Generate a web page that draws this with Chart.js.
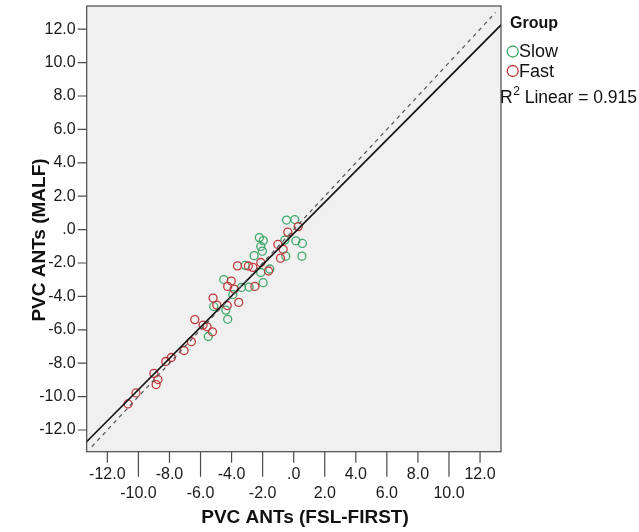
<!DOCTYPE html>
<html><head><meta charset="utf-8">
<script src="https://cdn.jsdelivr.net/npm/chart.js@4/dist/chart.umd.min.js"></script>
<style>html,body{margin:0;padding:0;background:#fff;}#wrap{width:639px;height:532px;position:relative;}</style>
</head><body><div id="wrap"><canvas id="c" width="639" height="532"></canvas></div>
<script>
// ---- data ----
const slowX = [-0.46, 0.07, -2.21, -1.96, -2.12, -2.02, -2.55, 0.14, 0.56, 0.53, -0.51, -3.12, -2.12, -1.54, -4.50, -1.97, -2.87, -3.36, -3.92, -5.15, -4.37, -4.25, -5.50, -0.57];
const slowY = [0.57, 0.60, -0.48, -0.66, -1.01, -1.29, -1.56, -0.67, -0.83, -1.59, -1.59, -2.14, -2.57, -2.36, -2.99, -3.18, -3.44, -3.46, -3.89, -4.60, -4.82, -5.37, -6.40, -0.63];
const fastX = [0.29, -0.38, -1.02, -0.68, -0.85, -3.62, -2.92, -2.63, -2.12, -1.62, -4.02, -4.25, -3.84, -2.50, -5.19, -3.54, -4.28, -4.95, -6.37, -5.84, -5.58, -5.23, -6.59, -7.06, -7.88, -8.24, -9.00, -8.74, -8.86, -10.16, -10.67];
const fastY = [0.18, -0.15, -0.89, -1.18, -1.71, -2.17, -2.18, -2.26, -1.97, -2.48, -3.08, -3.40, -3.56, -3.40, -4.10, -4.36, -4.55, -4.52, -5.39, -5.72, -5.82, -6.12, -6.71, -7.24, -7.66, -7.90, -8.61, -8.98, -9.28, -9.78, -10.44];
const fitSlope = 0.935;
const fitIntercept = -0.23;
const refLineX = [-13.0, 13.0];          // y = x reference line range
const fitLineX = [-13.4, 13.4];
const xTickValues = [-12, -10, -8, -6, -4, -2, 0, 2, 4, 6, 8, 10, 12];
const yTickValues = [-12, -10, -8, -6, -4, -2, 0, 2, 4, 6, 8, 10, 12];
const groupNames = ['Slow', 'Fast'];
const rSquared = 0.915;

const GREEN = '#3DA86A', RED = '#C0393C', AXIS = '#4a4a4a', FONT = "'Liberation Sans', Arial, sans-serif";
const fmt = v => (Math.abs(v) < 1e-9 ? '.0' : v.toFixed(1));

const decor = {
  id: 'decor',
  beforeDatasetsDraw(chart) {
    const {ctx, chartArea: a} = chart;
    ctx.save();
    ctx.fillStyle = '#F0F0F0';
    ctx.fillRect(a.left, a.top, a.right - a.left, a.bottom - a.top);
    ctx.restore();
  },
  afterDraw(chart) {
    const {ctx, chartArea: a, scales} = chart;
    ctx.save();
    ctx.strokeStyle = AXIS; ctx.lineWidth = 1.2;
    ctx.strokeRect(a.left, a.top, a.right - a.left, a.bottom - a.top);
    // ticks
    ctx.beginPath();
    xTickValues.forEach(v => {
      const px = scales.x.getPixelForValue(v);
      const len = (Math.round(v) % 4 === 0) ? 11 : 25;
      ctx.moveTo(px, a.bottom); ctx.lineTo(px, a.bottom + len);
    });
    yTickValues.forEach(v => {
      const py = scales.y.getPixelForValue(v);
      ctx.moveTo(a.left - 9, py); ctx.lineTo(a.left, py);
    });
    ctx.stroke();
    // axis titles
    ctx.fillStyle = '#111';
    ctx.font = 'bold 19px ' + FONT;
    ctx.textAlign = 'center'; ctx.textBaseline = 'middle';
    ctx.fillText('PVC ANTs (FSL-FIRST)', 305, 518);
    ctx.save();
    ctx.translate(40, 240); ctx.rotate(-Math.PI / 2);
    ctx.fillText('PVC ANTs (MALF)', 0, 0);
    ctx.restore();
    // legend
    ctx.textAlign = 'left';
    ctx.font = 'bold 16px ' + FONT;
    ctx.fillText('Group', 510, 24);
    ctx.font = '18px ' + FONT;
    [[GREEN, groupNames[0], 51.5], [RED, groupNames[1], 71]].forEach(([col, txt, y]) => {
      ctx.beginPath(); ctx.strokeStyle = col; ctx.lineWidth = 1.3;
      ctx.arc(512.7, y, 5.5, 0, Math.PI * 2); ctx.stroke();
      ctx.fillStyle = '#111';
      ctx.fillText(txt, 519, y + 1);
    });
    ctx.font = '17.5px ' + FONT;
    ctx.fillText('R', 500, 98);
    let w = ctx.measureText('R').width;
    ctx.font = '12px ' + FONT;
    ctx.fillText('2', 500 + w + 0.5, 92);
    w += ctx.measureText('2').width + 0.5;
    ctx.font = '17.5px ' + FONT;
    ctx.fillText(' Linear = ' + rSquared.toFixed(3), 500 + w, 98);
    ctx.restore();
  }
};

new Chart(document.getElementById('c'), {
  type: 'scatter',
  data: {
    datasets: [
      { label: 'y=x', type: 'line', data: refLineX.map(x => ({x, y: x})), borderColor: '#555', borderWidth: 1.2, borderDash: [4, 4], pointRadius: 0, fill: false, order: 0 },
      { label: 'fit', type: 'line', data: fitLineX.map(x => ({x, y: fitSlope * x + fitIntercept})), borderColor: '#111', borderWidth: 1.6, pointRadius: 0, fill: false, order: 0 },
      { label: groupNames[0], data: slowX.map((x, i) => ({x, y: slowY[i]})), borderColor: GREEN, backgroundColor: 'rgba(0,0,0,0)', pointRadius: 4, borderWidth: 1.3, order: 2 },
      { label: groupNames[1], data: fastX.map((x, i) => ({x, y: fastY[i]})), borderColor: RED, backgroundColor: 'rgba(0,0,0,0)', pointRadius: 4, borderWidth: 1.3, order: 1 }
    ]
  },
  options: {
    responsive: false, animation: false, devicePixelRatio: 1,
    layout: { padding: { left: 0, right: 138, top: 6, bottom: 0 } },
    plugins: { legend: { display: false }, tooltip: { enabled: false } },
    scales: {
      x: {
        type: 'linear', min: -13.33, max: 13.35,
        grid: { display: false, drawTicks: false }, border: { display: false },
        afterBuildTicks: s => { s.ticks = xTickValues.map(v => ({value: v})); },
        afterFit: s => { s.height = 80.3; s.paddingLeft = 0; s.paddingRight = 0; s.paddingTop = 0; s.paddingBottom = 0; },
        ticks: { padding: 13, maxRotation: 0, autoSkip: false, color: '#1a1a1a', font: { family: FONT, size: 16 },
          callback: v => (Math.round(v) % 4 === 0 ? [fmt(v), ''] : ['', fmt(v)]) }
      },
      y: {
        type: 'linear', min: -13.30, max: 13.39,
        grid: { display: false, drawTicks: false }, border: { display: false },
        afterBuildTicks: s => { s.ticks = yTickValues.map(v => ({value: v})); },
        afterFit: s => { s.width = 86.7; s.paddingLeft = 0; s.paddingRight = 0; s.paddingTop = 0; s.paddingBottom = 0; },
        ticks: { padding: 11, autoSkip: false, color: '#1a1a1a', font: { family: FONT, size: 16 }, callback: v => fmt(v) }
      }
    }
  },
  plugins: [decor]
});
</script></body></html>
